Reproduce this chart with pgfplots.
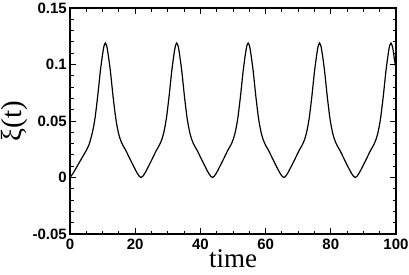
\documentclass[border=0pt]{standalone}
\usepackage{fontspec}
\setmainfont{Liberation Serif}
\newfontfamily\ticksf{Liberation Sans}
\usepackage{pgfplots}
\pgfplotsset{compat=1.18}
\begin{document}
\begin{tikzpicture}
\begin{axis}[
  scale only axis, width=326pt, height=226pt,
  at={(0pt,0pt)}, anchor=south west,
  xmin=0, xmax=100, ymin=-0.05, ymax=0.15,
  xtick={0,20,40,60,80,100}, xticklabels={0,20,40,60,80,100},
  ytick={-0.05,0,0.05,0.1,0.15}, yticklabels={-0.05,0,0.05,0.1,0.15},
  minor x tick num=3, minor y tick num=4,
  tick align=inside, major tick length=6pt, minor tick length=3.5pt,
  every tick/.style={black, line width=0.9pt},
  axis line style={line width=1.1pt},
  tick label style={font=\ticksf\bfseries\fontsize{15}{15}\selectfont},
  yticklabel style={inner sep=2pt, xshift=-1pt},
  xticklabel style={inner sep=2pt, yshift=-3pt},
  xlabel={time},
  xlabel style={font=\fontsize{27}{27}\selectfont, at={(axis description cs:0.5,-0.146)}, anchor=base, inner sep=0pt},
  ylabel={ξ(t)},
  ylabel style={font=\fontsize{29}{29}\selectfont, at={(axis description cs:-0.128,0.5)}, anchor=south, inner sep=0pt, rotate=0},
  clip=true,
]
\addplot[black, line width=1.2pt, smooth, tension=0.45] coordinates {
(0,0) (1,0.004) (2,0.009) (3,0.014) (4,0.019) (5,0.024) (5.9,0.0295)
(6.3,0.0335) (6.8,0.039) (7.3,0.046) (7.7,0.053) (8.05,0.061) (8.5,0.072) (8.9,0.083) (9.3,0.094) (9.75,0.104) (10.1,0.111) (10.4,0.116) (10.85,0.119)
(11.3,0.116) (11.6,0.111) (11.95,0.104) (12.4,0.094) (12.8,0.083) (13.2,0.072) (13.65,0.061) (14.0,0.053) (14.4,0.046) (14.9,0.039) (15.4,0.034) (15.8,0.031) (16.4,0.0275) (17.2,0.0235) (17.95,0.019) (18.8,0.014) (19.5,0.010) (20.3,0.0055) (20.8,0.003) (21.3,0.001) (21.8,0)
(22.3,0.001) (22.8,0.003) (23.3,0.0055) (24.1,0.010) (24.8,0.014) (25.65,0.019) (26.4,0.0235) (27.2,0.0275) (27.8,0.031) (28.2,0.034) (28.7,0.039) (29.2,0.046) (29.6,0.053) (29.95,0.061) (30.4,0.072) (30.8,0.083) (31.2,0.094) (31.65,0.104) (32.0,0.111) (32.3,0.116) (32.75,0.119)
(33.2,0.116) (33.5,0.111) (33.85,0.104) (34.3,0.094) (34.7,0.083) (35.1,0.072) (35.55,0.061) (35.9,0.053) (36.3,0.046) (36.8,0.039) (37.3,0.034) (37.7,0.031) (38.3,0.0275) (39.1,0.0235) (39.85,0.019) (40.7,0.014) (41.4,0.010) (42.2,0.0055) (42.7,0.003) (43.2,0.001) (43.7,0)
(44.2,0.001) (44.7,0.003) (45.2,0.0055) (46.0,0.010) (46.7,0.014) (47.55,0.019) (48.3,0.0235) (49.1,0.0275) (49.7,0.031) (50.1,0.034) (50.6,0.039) (51.1,0.046) (51.5,0.053) (51.85,0.061) (52.3,0.072) (52.7,0.083) (53.1,0.094) (53.55,0.104) (53.9,0.111) (54.2,0.116) (54.65,0.119)
(55.1,0.116) (55.4,0.111) (55.75,0.104) (56.2,0.094) (56.6,0.083) (57.0,0.072) (57.45,0.061) (57.8,0.053) (58.2,0.046) (58.7,0.039) (59.2,0.034) (59.6,0.031) (60.2,0.0275) (61.0,0.0235) (61.75,0.019) (62.6,0.014) (63.3,0.010) (64.1,0.0055) (64.6,0.003) (65.1,0.001) (65.6,0)
(66.1,0.001) (66.6,0.003) (67.1,0.0055) (67.9,0.010) (68.6,0.014) (69.45,0.019) (70.2,0.0235) (71.0,0.0275) (71.6,0.031) (72.0,0.034) (72.5,0.039) (73.0,0.046) (73.4,0.053) (73.75,0.061) (74.2,0.072) (74.6,0.083) (75.0,0.094) (75.45,0.104) (75.8,0.111) (76.1,0.116) (76.55,0.119)
(77.0,0.116) (77.3,0.111) (77.65,0.104) (78.1,0.094) (78.5,0.083) (78.9,0.072) (79.35,0.061) (79.7,0.053) (80.1,0.046) (80.6,0.039) (81.1,0.034) (81.5,0.031) (82.1,0.0275) (82.9,0.0235) (83.65,0.019) (84.5,0.014) (85.2,0.010) (86.0,0.0055) (86.5,0.003) (87.0,0.001) (87.5,0)
(88.0,0.001) (88.5,0.003) (89.0,0.0055) (89.8,0.010) (90.5,0.014) (91.35,0.019) (92.1,0.0235) (92.9,0.0275) (93.5,0.031) (93.9,0.034) (94.4,0.039) (94.9,0.046) (95.3,0.053) (95.65,0.061) (96.1,0.072) (96.5,0.083) (96.9,0.094) (97.35,0.104) (97.7,0.111) (98.0,0.116) (98.45,0.119)
(98.9,0.116) (99.2,0.111) (99.55,0.104) (100.0,0.096)
};
\end{axis}
\pgfresetboundingbox
\path (-70pt,-40pt) rectangle (339pt,234pt);
\end{tikzpicture}
\end{document}
